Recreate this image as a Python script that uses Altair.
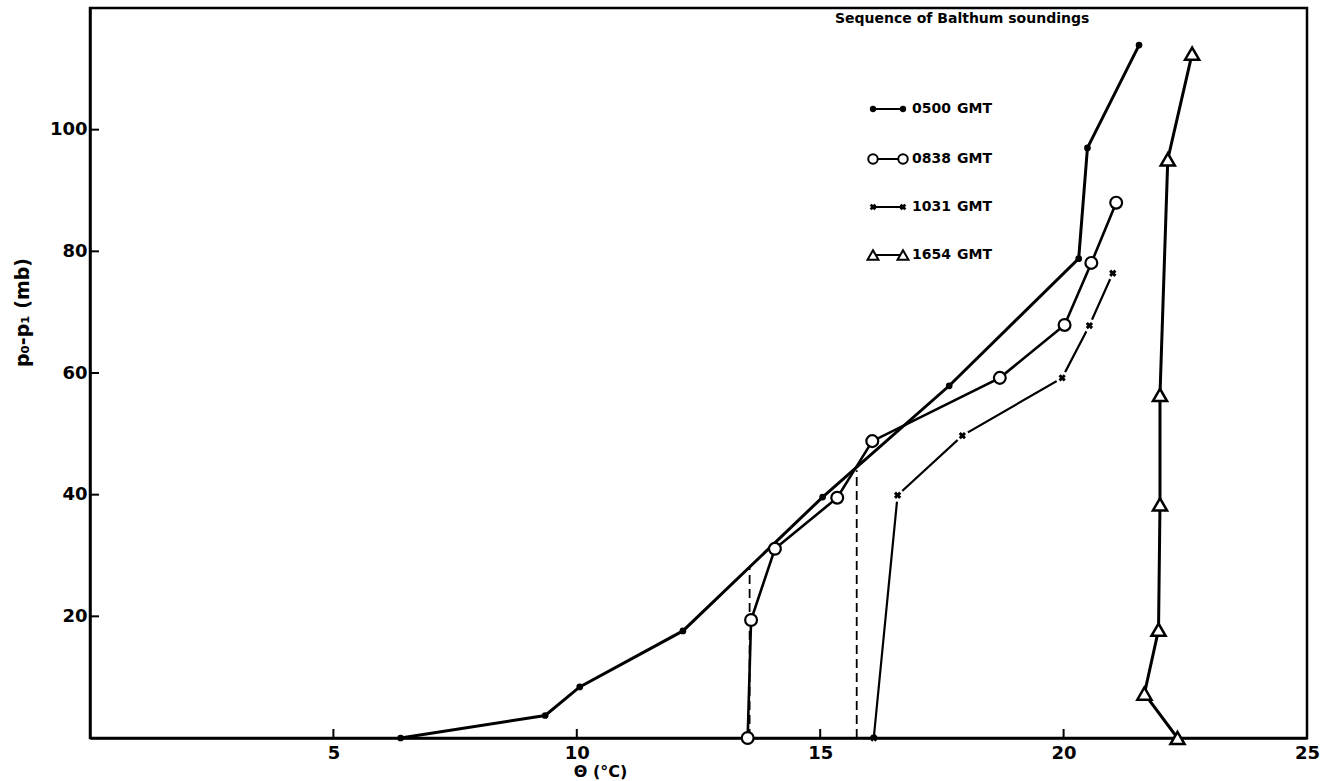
import altair as alt
import pandas as pd

# Potential temperature (deg C) against pressure depth p0 - p1 (mb), four Balthum soundings
theta_0500 = [6.38, 9.35, 10.06, 12.18, 15.05, 17.65, 20.31, 20.49, 21.55]
dp_0500 = [0.0, 3.7, 8.4, 17.6, 39.6, 57.9, 78.8, 97.0, 113.9]

theta_0838 = [13.51, 13.58, 14.07, 15.35, 16.07, 18.69, 20.02, 20.57, 21.08]
dp_0838 = [0.0, 19.4, 31.1, 39.5, 48.8, 59.2, 67.9, 78.1, 88.0]

theta_1031 = [16.10, 16.59, 17.92, 19.97, 20.53, 21.01]
dp_1031 = [0.0, 39.9, 49.7, 59.2, 67.8, 76.4]

theta_1654 = [22.34, 21.66, 21.95, 21.98, 21.98, 22.14, 22.64]
dp_1654 = [0.0, 7.3, 17.8, 38.4, 56.4, 95.1, 112.5]

# dashed mixed-layer verticals: theta and the depth where they meet the profile
dash_theta = [13.55, 15.75]
dash_top = [28.0, 44.0]

x_ticks = [5, 10, 15, 20, 25]
y_ticks = [20, 40, 60, 80, 100]

legend_codes = ["0500", "0838", "1031", "1654"]
legend_title = "Sequence of Balthum soundings"

W, H = 1217, 730
FONT = "DejaVu Sans"


def profile(th, dp):
    return pd.DataFrame({"theta": th, "dp": dp, "order": list(range(len(th)))})


d0500 = profile(theta_0500, dp_0500)
d0838 = profile(theta_0838, dp_0838)
d1031 = profile(theta_1031, dp_1031)
d1654 = profile(theta_1654, dp_1654)

x_scale = alt.Scale(domain=[0, 25], nice=False, zero=False)
y_scale = alt.Scale(domain=[0, 120], nice=False, zero=False)

X = alt.X(
    "theta:Q",
    scale=x_scale,
    axis=alt.Axis(
        values=x_ticks, title="Θ (°C)", labelPadding=6,
        labelFlush=False, titleX=510, titleY=33, titleBaseline="middle",
        titleAlign="center", titleFontSize=16,
    ),
)
Y = alt.Y(
    "dp:Q",
    scale=y_scale,
    axis=alt.Axis(
        values=y_ticks, title="p₀-p₁ (mb)", labelPadding=3,
        labelFlush=False, titleX=-68, titleY=304, titleBaseline="middle",
        titleAlign="center", titleAngle=270, titleFontSize=19,
    ),
)

INK = "black"


def line(df, w):
    return alt.Chart(df).mark_line(color=INK, strokeWidth=w).encode(
        x=X, y=Y, order="order:Q"
    )


lines = [
    line(d0500, 3.0),
    line(d0838, 2.6),
    line(d1031, 2.2),
    line(d1654, 3.0),
]

# white halos so the 1031 line breaks around its crosses
halo = (
    alt.Chart(d1031[d1031["dp"] > 0])
    .mark_point(shape="circle", filled=True, color="white", opacity=1, size=170)
    .encode(x=X, y=Y)
)

mk_0500 = alt.Chart(d0500).mark_point(
    shape="circle", filled=True, color=INK, opacity=1, size=45
).encode(x=X, y=Y)
mk_0838 = alt.Chart(d0838).mark_point(
    shape="circle", filled=True, fill="white", stroke=INK, strokeWidth=2.2,
    opacity=1, size=140
).encode(x=X, y=Y)
mk_1031 = alt.Chart(d1031).mark_point(
    shape="cross", angle=45, filled=True, color=INK, opacity=1, size=55
).encode(x=X, y=Y)
mk_1654 = alt.Chart(d1654).mark_point(
    shape="triangle-up", filled=True, fill="white", stroke=INK, strokeWidth=2.5,
    opacity=1, size=200
).encode(x=X, y=Y)

dash_df = pd.DataFrame({"theta": dash_theta, "dp": [0.0] * len(dash_theta), "top": dash_top})
dashes = alt.Chart(dash_df).mark_rule(
    color=INK, strokeWidth=1.8, strokeDash=[9, 5]
).encode(x=X, y=Y, y2="top:Q")

# inward tick marks on the frame
xt = pd.DataFrame({"theta": x_ticks[:-1]})
x_tick_marks = alt.Chart(xt).mark_rule(color=INK, strokeWidth=2).encode(
    x=X, y=alt.value(H), y2=alt.value(H - 9)
)
yt = pd.DataFrame({"dp": y_ticks})
y_tick_marks = alt.Chart(yt).mark_rule(color=INK, strokeWidth=2).encode(
    y=Y, x=alt.value(0), x2=alt.value(9)
)

# legend drawn inside the frame, upper right
leg_x0, leg_x1, leg_num_x, leg_gmt_x = 783, 813, 822, 867
leg_rows = [101, 151, 199, 247]
leg = pd.DataFrame({"code": legend_codes, "ly": leg_rows})
leg_pts = pd.concat(
    [leg.assign(lx=leg_x0), leg.assign(lx=leg_x1)], ignore_index=True
)
LX = alt.X("lx:Q", scale=None, axis=None)
LY = alt.Y("ly:Q", scale=None, axis=None)

leg_lines = alt.Chart(leg).mark_rule(color=INK, strokeWidth=2).encode(
    x=alt.value(leg_x0), x2=alt.value(leg_x1), y=LY
)
leg_marks = [
    alt.Chart(leg_pts).transform_filter(alt.datum.code == "0500").mark_point(
        shape="circle", filled=True, color=INK, opacity=1, size=40
    ).encode(x=LX, y=LY),
    alt.Chart(leg_pts).transform_filter(alt.datum.code == "0838").mark_point(
        shape="circle", filled=True, fill="white", stroke=INK, strokeWidth=2,
        opacity=1, size=90
    ).encode(x=LX, y=LY),
    alt.Chart(leg_pts).transform_filter(alt.datum.code == "1031").mark_point(
        shape="cross", angle=45, filled=True, color=INK, opacity=1, size=45
    ).encode(x=LX, y=LY),
    alt.Chart(leg_pts).transform_filter(alt.datum.code == "1654").mark_point(
        shape="triangle-up", filled=True, fill="white", stroke=INK, strokeWidth=2,
        opacity=1, size=120
    ).encode(x=LX, y=LY),
]
leg_nums = alt.Chart(leg).mark_text(
    align="left", baseline="middle", font=FONT, fontWeight="bold", fontSize=14, color=INK
).encode(x=alt.value(leg_num_x), y=LY, text="code:N")
leg_gmt = alt.Chart(leg).mark_text(
    align="left", baseline="middle", font=FONT, fontWeight="bold", fontSize=14, color=INK,
    text="GMT"
).encode(x=alt.value(leg_gmt_x), y=LY)
leg_head = alt.Chart(pd.DataFrame({"t": [legend_title]})).mark_text(
    align="left", baseline="middle", font=FONT, fontWeight="bold", fontSize=14, color=INK
).encode(x=alt.value(745), y=alt.value(11), text="t:N")

chart = (
    alt.layer(
        dashes,
        *lines,
        halo,
        mk_0500,
        mk_0838,
        mk_1031,
        mk_1654,
        x_tick_marks,
        y_tick_marks,
        leg_lines,
        *leg_marks,
        leg_nums,
        leg_gmt,
        leg_head,
    )
    .properties(
        width=W,
        height=H,
        autosize=alt.AutoSizeParams(type="none"),
        padding={"left": 90, "top": 8, "right": 22, "bottom": 43},
    )
    .configure(background="white")
    .configure_view(stroke=INK, strokeWidth=2.5)
    .configure_axis(
        grid=False,
        ticks=False,
        domainColor=INK,
        domainWidth=2.5,
        labelFont=FONT,
        labelFontWeight="bold",
        labelFontSize=18,
        labelColor=INK,
        titleFont=FONT,
        titleFontWeight="bold",
        titleColor=INK,
    )
)

chart.save("out.html", embed_options={"renderer": "svg", "actions": False})
